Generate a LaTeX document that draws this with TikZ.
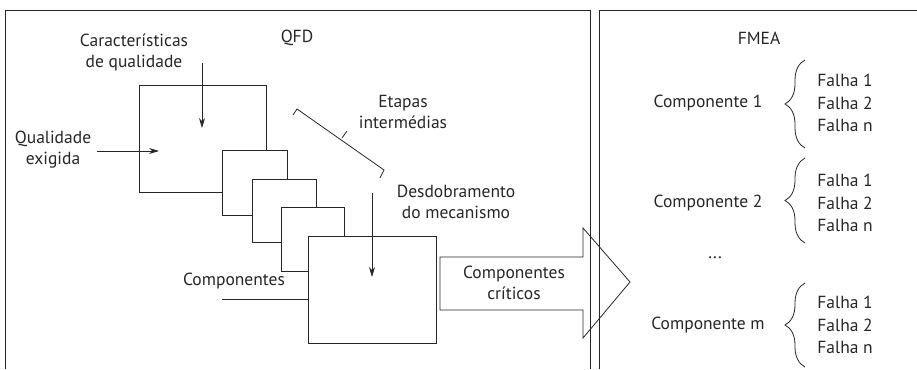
\documentclass[tikz,border=0pt]{standalone}
\usepackage{fontspec}
\setmainfont{PT Sans}
\usetikzlibrary{decorations.pathreplacing,arrows.meta}
\begin{document}
\begin{tikzpicture}[x=1pt,y=-1pt, line width=0.8pt, draw=black!85,
  lbl/.style={font=\fontsize{17.5}{21}\selectfont, text=black!85, align=center, inner sep=0pt},
  fl/.style={font=\fontsize{17.5}{22.5}\selectfont, text=black!85, align=left, inner sep=0pt, anchor=west},
  blk/.style={draw, fill=white, inner sep=0pt, outer sep=0pt, anchor=north west},
  arr/.style={-{Stealth[length=10pt,width=6pt]}},
  brc/.style={decorate, decoration={brace, amplitude=20pt}}]
\useasboundingbox (0,0) rectangle (917,369);
% panels
\draw (5,369) -- (5,10) -- (590,10) -- (590,369);
\draw (599,369) -- (599,10) -- (925,10);
% stacked QFD matrices
\node[blk, minimum width=127pt, minimum height=107pt] (b1) at (139,85) {};
\node[blk, minimum width=65pt, minimum height=65pt] (b2) at (222,150) {};
\node[blk, minimum width=64pt, minimum height=63pt] (b3) at (252,179) {};
\node[blk, minimum width=63pt, minimum height=64pt] (b4) at (281,207) {};
\node[blk, minimum width=128pt, minimum height=107pt] (b5) at (308,236) {};
% labels
\node[lbl] (qfd) at (297,38) {QFD};
\node[lbl] (tcq) at (134,52) {Características\\de qualidade};
\node[lbl] (tqe) at (53,150) {Qualidade\\exigida};
\node[lbl] (tei) at (403,112) {Etapas\\intermédias};
\node[lbl] (tdm) at (456,202) {Desdobramento\\do mecanismo};
\node[lbl] (tcomp) at (234,281) {Componentes};
% input arrows
\coordinate (cqa) at (202,63); \coordinate (cqb) at (202,128);
\draw[arr] (cqa) -- (cqb);
\coordinate (qea) at (97,151); \coordinate (qeb) at (159,151);
\draw[arr] (qea) -- (qeb);
\coordinate (dma) at (372,193); \coordinate (dmb) at (372,277);
\draw[arr] (dma) -- (dmb);
\coordinate (cpa) at (222,299); \coordinate (cpb) at (308,299);
\draw (cpa) -- (cpb);
% bracket for intermediate stages
\coordinate (e1) at (293,115); \coordinate (e2) at (297,109);
\coordinate (e3) at (384,170); \coordinate (e4) at (380,178);
\coordinate (m1) at (342,138); \coordinate (m2) at (347,131);
\draw (e1) -- (e2) -- (e3) -- (e4);
\draw (m1) -- (m2);
% big arrow
\coordinate (a1) at (440,257); \coordinate (a2) at (583,257);
\coordinate (a3) at (583,228); \coordinate (a4) at (630,282);
\coordinate (a5) at (583,338); \coordinate (a6) at (583,310);
\coordinate (a7) at (440,310);
\draw (a1) -- (a2) -- (a3) -- (a4) -- (a5) -- (a6) -- (a7) -- cycle;
\node[lbl] (tcc) at (514,283) {Componentes\\críticos};
% FMEA
\node[lbl] (fmea) at (759,38) {FMEA};
\node[lbl] (c1) at (708,103) {Componente 1};
\node[fl] (f1) at (817,103) {Falha 1\\Falha 2\\Falha n};
\coordinate (br1a) at (805,148); \coordinate (br1b) at (805,60);
\draw[brc] (br1a) -- (br1b);
\node[lbl] (c2) at (708,203) {Componente 2};
\node[fl] (f2) at (817,203) {Falha 1\\Falha 2\\Falha n};
\coordinate (br2a) at (805,243); \coordinate (br2b) at (805,158);
\draw[brc] (br2a) -- (br2b);
\node[lbl] (dots) at (715,258) {...};
\node[lbl] (cm) at (708,325) {Componente m};
\node[fl] (fm) at (817,325) {Falha 1\\Falha 2\\Falha n};
\coordinate (brma) at (805,367); \coordinate (brmb) at (805,283);
\draw[brc] (brma) -- (brmb);
\end{tikzpicture}
\end{document}
